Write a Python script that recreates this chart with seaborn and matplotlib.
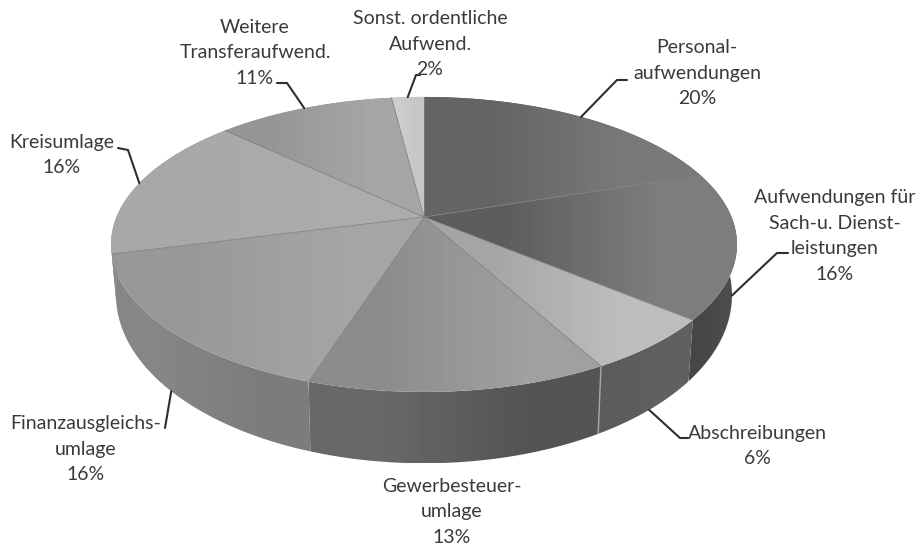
import numpy as np
import seaborn as sns
import matplotlib
matplotlib.use("Agg")
import matplotlib.pyplot as plt
from matplotlib.patches import Polygon

# cost shares in percent, clockwise from 12 o'clock
names = ["Personal-\naufwendungen", "Aufwendungen für\nSach-u. Dienst-\nleistungen",
         "Abschreibungen", "Gewerbesteuer-\numlage", "Finanzausgleichs-\numlage",
         "Kreisumlage", "Weitere\nTransferaufwend.", "Sonst. ordentliche\nAufwend."]
shares = [20, 16, 6, 13, 16, 16, 11, 2]

# grey shading left -> right for each slice
top_shades = [(100, 122), (92, 125), (165, 190), (140, 160), (152, 165), (168, 172), (150, 166), (205, 198)]
wall_shades = [(90, 90), (70, 76), (92, 96), (104, 84), (134, 124), (140, 140), (140, 140), (140, 140)]

# label centre and leader elbows in image pixels
label_pos = [(697, 73), (835, 236), (757, 446), (452, 512), (86, 449), (62, 155), (255, 53), (430, 44)]
leaders = [[(617, 80), (627, 80)], [(777, 253), (788, 253)], [(680, 438), (688, 438)], None,
           [(165, 428)], [(128, 150), (118, 148)], [(287, 83), (277, 83)], [(416, 75), (420, 75)]]

sns.set_theme(style="white")
plt.rcParams["font.family"] = ["Lato", "DejaVu Sans"]

fig, ax = plt.subplots(figsize=(9.22, 5.48), dpi=100)
fig.subplots_adjust(0, 0, 1, 1)


def rim(frac, cy=217.0, fx=307.5, fy=142.4):
    # perspective circle, frac = share of the way round from the top
    t = 2 * np.pi * np.asarray(frac)
    s, c = -np.cos(t), np.sin(t)
    d = 1 - 0.186 * s
    return 424 + fx * c / d, cy + fy * s / d


def bottom_rim(frac):
    return rim(frac, cy=264.0, fx=302.6, fy=162.2)


def shaded(xs, ys, shade, z):
    im = ax.imshow(np.array([shade], dtype=float), cmap="gray", vmin=0, vmax=255, aspect="auto",
                   interpolation="bilinear", extent=[xs.min(), xs.max(), ys.max(), ys.min()], zorder=z)
    patch = Polygon(np.column_stack([xs, ys]), closed=True, fc="none", ec="none", zorder=z)
    ax.add_patch(patch)
    im.set_clip_path(patch)


edges = np.cumsum([0] + shares) / sum(shares)

# side walls first, the top faces cover whatever is hidden
for i in range(len(shares)):
    f = np.linspace(edges[i], edges[i + 1], 80)
    xt, yt = rim(f)
    xb, yb = bottom_rim(f)
    shaded(np.r_[xt, xb[::-1]], np.r_[yt, yb[::-1]], wall_shades[i], 1)

# light seam between Gewerbesteuer and Abschreibungen walls
x0, y0 = rim(edges[3])
x1, y1 = bottom_rim(edges[3])
ax.plot([x0, x1], [y0, y1], color="#a8a8a8", lw=1, zorder=2)

for i in range(len(shares)):
    f = np.linspace(edges[i], edges[i + 1], 80)
    xt, yt = rim(f)
    xs = np.r_[424, xt]
    ys = np.r_[217, yt]
    shaded(xs, ys, top_shades[i], 3)
    ax.plot(xs[:2], ys[:2], color="#7f7f7f", lw=0.6, zorder=4)

for i, name in enumerate(names):
    mid = (edges[i] + edges[i + 1]) / 2
    lx, ly = label_pos[i]
    ax.text(lx, ly, f"{name}\n{shares[i]}%", ha="center", va="center", fontsize=14,
            color="#3a3a3a", linespacing=1.62, zorder=6)
    if leaders[i] is None:
        continue
    # leaders start on the slice's rim: top rim at the back, bottom rim in front
    start = rim(mid) if np.cos(2 * np.pi * mid) > 0 or np.sin(2 * np.pi * mid) < -0.9 else bottom_rim(mid)
    pts = [start] + leaders[i]
    ax.plot([p[0] for p in pts], [p[1] for p in pts], color="#2e2e2e", lw=1.5, zorder=5)

ax.set_xlim(0, 922)
ax.set_ylim(548, 0)
ax.axis("off")
sns.despine(ax=ax, left=True, bottom=True)
fig.savefig("out.png", dpi=100, facecolor="white")
